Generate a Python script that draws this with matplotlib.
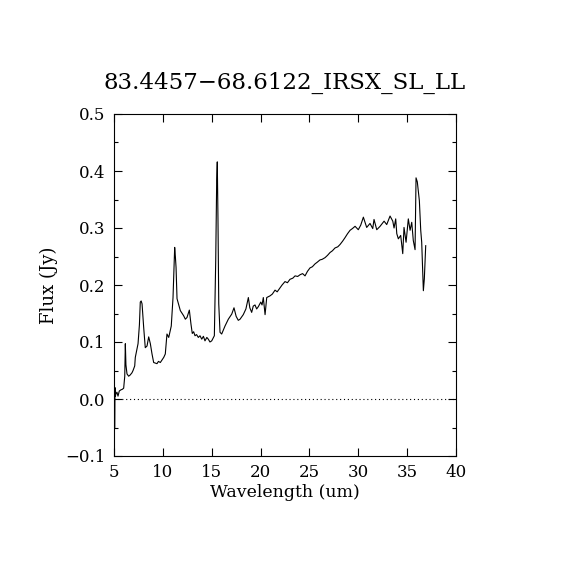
import matplotlib
matplotlib.use("Agg")
import matplotlib.pyplot as plt
from matplotlib.ticker import MultipleLocator

# spectrum
wavelength = [5.08, 5.1, 5.14, 5.2, 5.3, 5.41, 5.54, 5.7, 5.85, 5.99, 6.1, 6.16, 6.22,
              6.33, 6.5, 6.65, 6.84, 6.95, 7.12, 7.18, 7.46, 7.6, 7.69, 7.78, 7.87,
              8.04, 8.2, 8.38, 8.55, 8.72, 8.89, 9.06, 9.4, 9.55, 9.74, 10.09, 10.25,
              10.42, 10.6, 10.86, 11.04, 11.21, 11.28, 11.35, 11.45, 11.79, 12.13,
              12.3, 12.47, 12.71, 12.88, 13.01, 13.15, 13.29, 13.45, 13.63, 13.8,
              13.98, 14.15, 14.31, 14.5, 14.65, 14.82, 15.0, 15.27, 15.41, 15.51,
              15.57, 15.64, 15.72, 15.85, 16.02, 16.36, 16.7, 17.05, 17.28, 17.5,
              17.72, 17.9, 18.23, 18.5, 18.75, 18.9, 19.09, 19.25, 19.43, 19.6, 19.77,
              20.02, 20.15, 20.28, 20.46, 20.63, 20.97, 21.2, 21.48, 21.7, 21.99,
              22.2, 22.5, 22.75, 23.01, 23.3, 23.53, 23.8, 24.04, 24.3, 24.55, 24.8,
              25.06, 25.3, 25.57, 25.8, 26.08, 26.3, 26.6, 26.85, 27.11, 27.35, 27.62,
              27.9, 28.13, 28.4, 28.64, 28.9, 29.16, 29.4, 29.67, 30.0, 30.25, 30.52,
              30.86, 31.2, 31.48, 31.61, 31.89, 32.23, 32.64, 32.91, 33.25, 33.53,
              33.66, 33.83, 33.94, 34.1, 34.34, 34.55, 34.68, 34.89, 35.12, 35.3,
              35.47, 35.63, 35.81, 35.91, 36.04, 36.25, 36.39, 36.49, 36.6, 36.66,
              36.76, 36.9]
flux = [-0.05, 0.02, 0.005, 0.009, 0.012, 0.005, 0.014, 0.016, 0.017, 0.019, 0.04, 0.097,
        0.06, 0.044, 0.04, 0.042, 0.046, 0.05, 0.058, 0.073, 0.097, 0.13, 0.17,
        0.172, 0.167, 0.125, 0.09, 0.093, 0.109, 0.097, 0.079, 0.064, 0.062, 0.066,
        0.064, 0.073, 0.079, 0.114, 0.108, 0.128, 0.178, 0.266, 0.25, 0.231, 0.176,
        0.155, 0.146, 0.14, 0.143, 0.156, 0.131, 0.115, 0.118, 0.111, 0.113, 0.108,
        0.111, 0.105, 0.11, 0.102, 0.108, 0.105, 0.1, 0.102, 0.111, 0.243, 0.384,
        0.416, 0.317, 0.167, 0.117, 0.114, 0.128, 0.14, 0.149, 0.16, 0.145, 0.138,
        0.14, 0.148, 0.158, 0.178, 0.16, 0.152, 0.163, 0.165, 0.158, 0.162, 0.17,
        0.165, 0.178, 0.148, 0.178, 0.181, 0.184, 0.191, 0.188, 0.195, 0.2, 0.206,
        0.204, 0.21, 0.212, 0.216, 0.215, 0.218, 0.22, 0.216, 0.224, 0.23, 0.232,
        0.237, 0.24, 0.244, 0.245, 0.248, 0.252, 0.257, 0.26, 0.265, 0.267, 0.271,
        0.277, 0.283, 0.29, 0.296, 0.299, 0.303, 0.297, 0.305, 0.319, 0.301,
        0.308, 0.299, 0.315, 0.297, 0.303, 0.312, 0.306, 0.321, 0.312, 0.3, 0.316,
        0.29, 0.281, 0.287, 0.255, 0.301, 0.275, 0.316, 0.296, 0.31, 0.278, 0.262,
        0.388, 0.381, 0.348, 0.296, 0.275, 0.219, 0.19, 0.211, 0.269]

x_ticks = [5, 10, 15, 20, 25, 30, 35, 40]
y_ticks = [-0.1, 0.0, 0.1, 0.2, 0.3, 0.4, 0.5]
y_ticklabels = ["\u22120.1", "0.0", "0.1", "0.2", "0.3", "0.4", "0.5"]

plt.rcParams["font.family"] = ["DejaVu Serif"]

fig = plt.figure(figsize=(5.7, 5.7), dpi=100)
ax = fig.add_axes([0.2, 0.2, 0.6, 0.6])

ax.plot(wavelength, flux, color="black", lw=0.8)
ax.axhline(0.0, color="black", lw=0.8, ls=(0, (1, 2.5)))

ax.set_xlim(5, 40)
ax.set_ylim(-0.1, 0.5)
ax.set_xticks(x_ticks)
ax.set_yticks(y_ticks)
ax.set_yticklabels(y_ticklabels)
ax.yaxis.set_minor_locator(MultipleLocator(0.05))
ax.tick_params(which="both", direction="in", top=True, right=True,
               width=0.8, labelsize=12, color="black")
ax.tick_params(which="major", length=6)
ax.tick_params(which="minor", length=3)
ax.tick_params(axis="x", pad=6)
ax.tick_params(axis="y", pad=6)
for s in ax.spines.values():
    s.set_linewidth(0.8)

ax.set_xlabel("Wavelength (um)", fontsize=12.5, labelpad=2)
ax.set_ylabel("Flux (Jy)", fontsize=13, labelpad=5)
ax.set_title("83.4457\u221268.6122_IRSX_SL_LL", fontsize=16.5, pad=18)

fig.savefig("out.png", dpi=100, facecolor="white")
